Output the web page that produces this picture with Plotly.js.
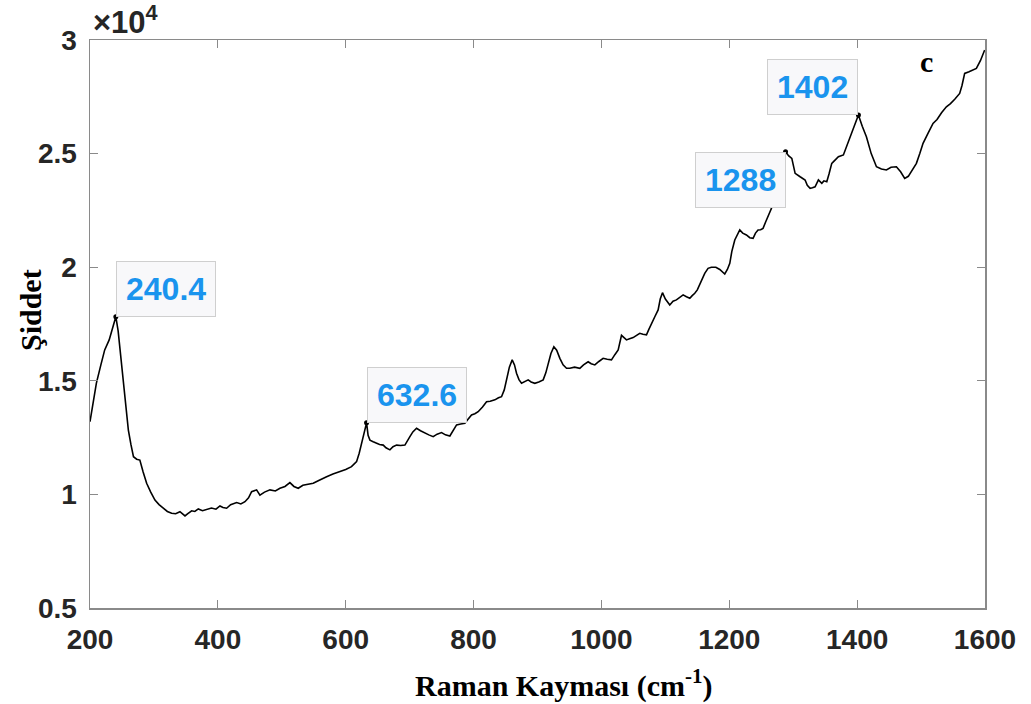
<!DOCTYPE html>
<html>
<head>
<meta charset="utf-8">
<script src="https://cdn.plot.ly/plotly-3.0.1.min.js"></script>
<style>html,body{margin:0;padding:0;background:#fff;}#chart{width:1031px;height:704px;}</style>
</head>
<body>
<div id="chart"></div>
<script>
// Raman shift (cm^-1)
const ramanShift = [200,205,210,217,223,230,235,240.4,244,247,251,255,260,264,268,273,278,283,288.6,295,301.6,308,314.6,321,327.7,334,340.7,348.6,353,359,364,369.4,376,382.5,390,397,403.3,408,413.7,420,429.4,436,442.4,448,452.8,460.6,465.8,473,481.5,490,497.1,505,512.7,519,525.7,533,541,549.2,557,563,570.1,580,590.9,600,609.1,614.4,617,621.1,624.9,628,632.6,635,637.9,643,648.3,653,658.7,663,669.1,674,679.6,686,692.6,697,700.4,705,710.8,717,723.8,730,736.8,743,749.9,756,762.9,768,773.4,780,786.4,791,796.8,802,807.2,814,820.3,826,833.3,839,843.7,848,851.6,856,860.4,864,867.2,871,875,880,885.4,890,895.8,902,908.9,913,916.7,921,925.6,930,935,940,945.4,950.6,958,966.2,972,979.2,984,989.7,996,1002.7,1009,1015.7,1021,1026.2,1031.4,1035,1039.2,1044,1049.6,1055,1060,1065,1070.5,1074,1078.3,1083.5,1088.7,1092,1095.5,1100,1106.9,1112,1117.3,1122,1127.8,1133,1138.2,1142,1146,1150,1153.8,1158,1161.6,1166.8,1172,1179,1185.1,1192.9,1197,1200.8,1204,1208.6,1212,1216.4,1221,1226.8,1232,1237.2,1241,1245,1249,1252.8,1257,1260.6,1266,1288,1293,1297.8,1300,1303,1310.8,1318.6,1322,1326.4,1330,1334.2,1339.4,1344.7,1348,1352.5,1356,1360.3,1365,1370.7,1378.5,1382,1386.3,1392,1397,1402,1408,1414.5,1422,1430.2,1438,1445.8,1453,1461.4,1468,1474.4,1480,1486,1492.7,1498,1503.1,1511,1518.7,1525,1532,1539.6,1546,1553,1560.4,1564,1568.2,1575,1580,1586.5,1593,1599.5];
// Intensity (x10^4)
const intensity = [1.32,1.40,1.49,1.57,1.636,1.68,1.73,1.782,1.72,1.636,1.52,1.415,1.283,1.22,1.166,1.155,1.151,1.10,1.049,1.01,0.975,0.955,0.939,0.925,0.917,0.915,0.924,0.905,0.915,0.928,0.925,0.936,0.928,0.934,0.94,0.935,0.949,0.942,0.939,0.955,0.964,0.958,0.968,0.985,1.012,1.02,0.997,1.01,1.02,1.015,1.027,1.035,1.052,1.035,1.027,1.04,1.045,1.049,1.06,1.07,1.078,1.09,1.10,1.11,1.122,1.137,1.144,1.181,1.225,1.27,1.315,1.26,1.239,1.232,1.225,1.22,1.217,1.205,1.196,1.21,1.217,1.215,1.217,1.235,1.254,1.275,1.291,1.28,1.269,1.262,1.254,1.265,1.272,1.262,1.257,1.28,1.306,1.31,1.313,1.33,1.35,1.355,1.364,1.385,1.408,1.41,1.416,1.425,1.43,1.46,1.504,1.56,1.592,1.57,1.533,1.505,1.489,1.495,1.504,1.495,1.489,1.495,1.504,1.535,1.577,1.62,1.65,1.635,1.599,1.57,1.555,1.555,1.56,1.555,1.57,1.584,1.575,1.57,1.585,1.599,1.595,1.592,1.615,1.636,1.70,1.69,1.68,1.685,1.69,1.70,1.709,1.705,1.702,1.725,1.753,1.782,1.812,1.86,1.888,1.86,1.834,1.85,1.856,1.865,1.878,1.87,1.863,1.875,1.885,1.90,1.922,1.95,1.973,1.995,2.0,2.0,1.99,1.97,1.99,2.017,2.07,2.12,2.14,2.164,2.15,2.142,2.13,2.127,2.15,2.164,2.165,2.171,2.20,2.222,2.259,2.508,2.49,2.479,2.45,2.413,2.398,2.384,2.36,2.347,2.35,2.354,2.384,2.369,2.38,2.376,2.41,2.457,2.47,2.486,2.494,2.52,2.56,2.60,2.64,2.67,2.62,2.574,2.50,2.442,2.432,2.428,2.44,2.442,2.42,2.391,2.40,2.43,2.457,2.50,2.545,2.59,2.633,2.65,2.68,2.706,2.72,2.74,2.765,2.80,2.853,2.86,2.865,2.875,2.91,2.956];
// Marked peaks
const peakX = [240.4, 632.6, 1288, 1402];
const peakY = [1.782, 1.315, 2.508, 2.67];
const peakLabels = ['240.4', '632.6', '1288', '1402'];
const peakAnchorX = ['left', 'left', 'right', 'right'];
const peakAnchorY = ['bottom', 'bottom', 'top', 'bottom'];
const xTicks = [200, 400, 600, 800, 1000, 1200, 1400, 1600];
const yTicks = [0.5, 1, 1.5, 2, 2.5, 3];
const yTickText = ['0.5', '1', '1.5', '2', '2.5', '3'];

const axisColor = '#8a8a8a';
const tickFont = {family: 'Liberation Sans, Arial, sans-serif', size: 28, color: '#262626', weight: 'bold'};

const traces = [
  {x: ramanShift, y: intensity, type: 'scatter', mode: 'lines',
   line: {color: '#000000', width: 1.6}, hoverinfo: 'skip', showlegend: false},
  {x: peakX, y: peakY, type: 'scatter', mode: 'markers',
   marker: {color: '#000000', size: 5}, hoverinfo: 'skip', showlegend: false}
];

const annotations = peakLabels.map((t, i) => ({
  x: peakX[i], y: peakY[i], xref: 'x', yref: 'y', text: t, showarrow: false,
  xanchor: peakAnchorX[i], yanchor: peakAnchorY[i],
  font: {family: 'Liberation Sans, Arial, sans-serif', size: 32, color: '#1a94ee', weight: 'bold'},
  bgcolor: '#f8f8fa', bordercolor: '#cfcfcf', borderwidth: 1, borderpad: 9
}));

annotations.push(
  {xref: 'paper', yref: 'paper', x: 0, y: 1, xanchor: 'left', yanchor: 'bottom', xshift: 1, yshift: -2,
   text: '×10<sup>4</sup>', showarrow: false,
   font: {family: 'Liberation Sans, Arial, sans-serif', size: 31, color: '#262626', weight: 'bold'}},
  {xref: 'paper', yref: 'paper', x: 0.5296, y: 0, xanchor: 'center', yanchor: 'middle', yshift: -75,
   text: 'Raman Kayması (cm<sup>-1</sup>)', showarrow: false,
   font: {family: 'Liberation Serif, Times New Roman, serif', size: 30, color: '#000000', weight: 'bold'}},
  {xref: 'paper', yref: 'paper', x: 0, y: 0.5246, xanchor: 'center', yanchor: 'middle', xshift: -60,
   text: 'Şiddet', textangle: -90, showarrow: false,
   font: {family: 'Liberation Serif, Times New Roman, serif', size: 30, color: '#000000', weight: 'bold'}},
  {xref: 'paper', yref: 'paper', x: 0.935, y: 0.963, xanchor: 'center', yanchor: 'middle',
   text: 'c', showarrow: false,
   font: {family: 'Liberation Serif, Times New Roman, serif', size: 30, color: '#000000', weight: 'bold'}}
);

const layout = {
  width: 1031, height: 704,
  margin: {l: 90, r: 46, t: 40, b: 96, pad: 0},
  paper_bgcolor: '#ffffff', plot_bgcolor: '#ffffff',
  showlegend: false,
  xaxis: {range: [200, 1600], tickvals: xTicks, ticktext: xTicks.map(String),
          showgrid: false, zeroline: false, showline: true, linecolor: axisColor, linewidth: 1.5,
          mirror: 'ticks', ticks: 'inside', ticklen: 8, tickwidth: 1.2, tickcolor: axisColor,
          tickfont: tickFont, ticklabelstandoff: 6},
  yaxis: {range: [0.5, 3], tickvals: yTicks, ticktext: yTickText,
          showgrid: false, zeroline: false, showline: true, linecolor: axisColor, linewidth: 1.5,
          mirror: 'ticks', ticks: 'inside', ticklen: 8, tickwidth: 1.2, tickcolor: axisColor,
          tickfont: tickFont, ticklabelstandoff: 6},
  annotations: annotations
};

Plotly.newPlot('chart', traces, layout, {displayModeBar: false, staticPlot: true});
</script>
</body>
</html>
